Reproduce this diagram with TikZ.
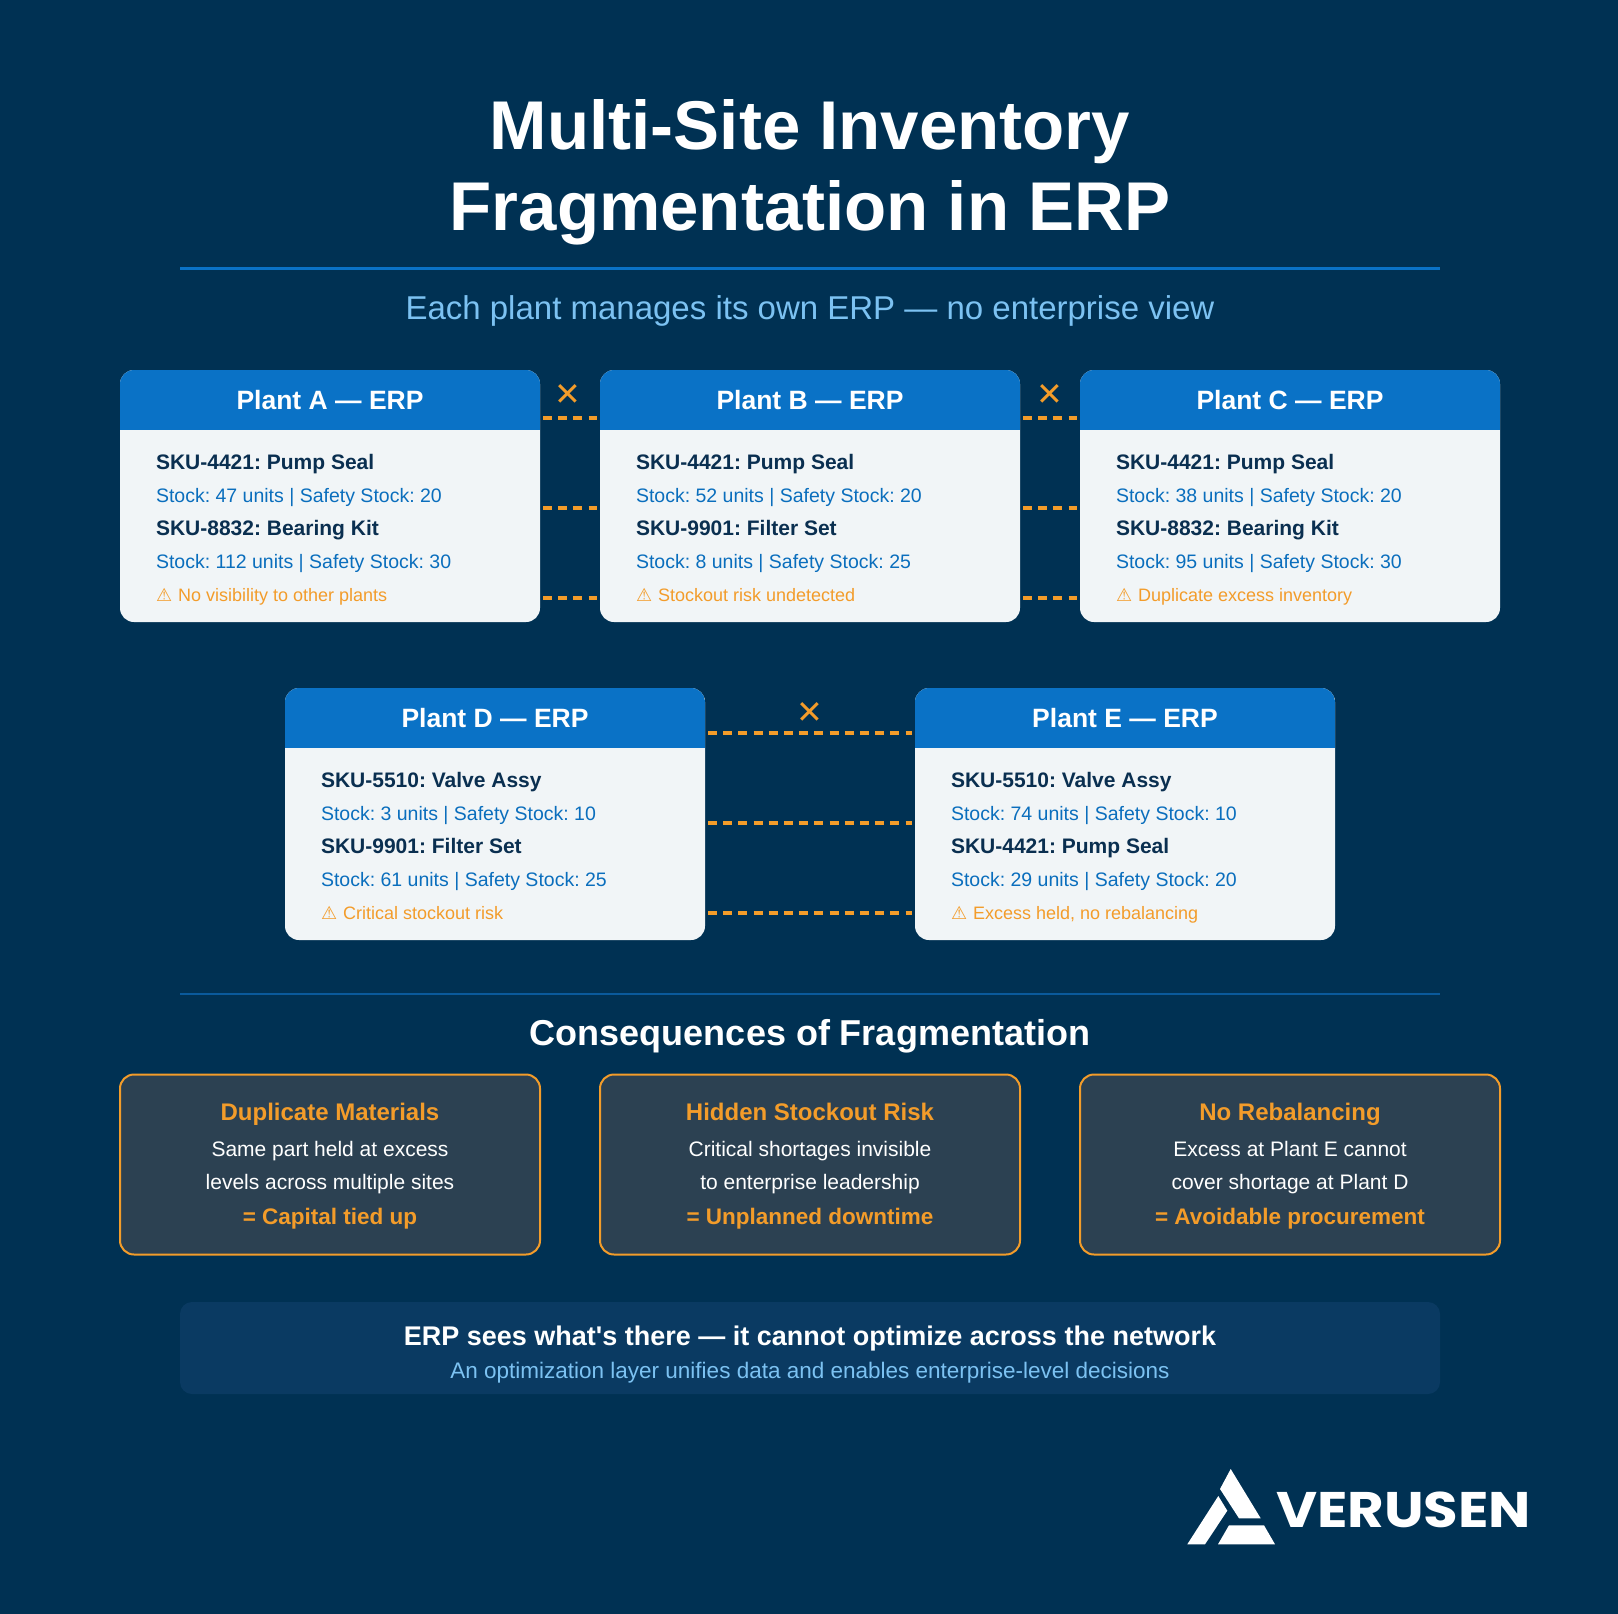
\documentclass[tikz,border=0pt]{standalone}
\usepackage{fontspec}
\usepackage{tikz}
\setmainfont{Liberation Sans}[Ligatures=TeXOff]
\newfontfamily\symfont{DejaVu Sans}
\newfontfamily\logofont{Poppins}[FakeStretch=1.125]
\usetikzlibrary{calc}
\frenchspacing

\definecolor{bgblue}{HTML}{003153}
\definecolor{headblue}{HTML}{0A72C6}
\definecolor{stockblue}{HTML}{0A6EBD}
\definecolor{skunavy}{HTML}{0A2F50}
\definecolor{cardgrey}{HTML}{F1F5F7}
\definecolor{warnorange}{HTML}{F39C2A}
\definecolor{skyblue}{HTML}{7CC2F2}
\definecolor{slatefill}{HTML}{2C4152}
\definecolor{bannerblue}{HTML}{0A3A62}
\definecolor{ruledark}{HTML}{0A5A9C}

\begin{document}
\begin{tikzpicture}[line cap=butt,line join=round,x=1pt,y=-1pt,
  txt/.style={anchor=base west,inner sep=0,outer sep=0},
  mid/.style={anchor=base,inner sep=0,outer sep=0},
  card/.style={rectangle,draw=none,fill=cardgrey,rounded corners=14pt,minimum width=420pt,minimum height=252pt,inner sep=0,outer sep=0,
    path picture={\fill[headblue,sharp corners] (path picture bounding box.north west) rectangle ([yshift=-60pt]path picture bounding box.north east);}},
  head/.style={mid,text=white,font=\fontsize{26.5}{30}\selectfont\bfseries},
  sku/.style={txt,text=skunavy,font=\fontsize{21}{26}\selectfont\bfseries},
  stock/.style={txt,text=stockblue,font=\fontsize{19.5}{24}\selectfont},
  warn/.style={txt,text=warnorange,font=\fontsize{18}{22}\selectfont},
  link/.style={draw=warnorange,line width=4pt,dash pattern=on 9pt off 6.2pt,shorten <=3pt,shorten >=3pt},
  cross/.style={mid,text=warnorange,font=\symfont\fontsize{32}{38}\selectfont},
  effect/.style={rectangle,draw=warnorange,fill=slatefill,line width=2pt,rounded corners=14pt,minimum width=420pt,minimum height=180pt,inner sep=0},
  effhead/.style={mid,text=warnorange,font=\fontsize{24}{28}\selectfont\bfseries},
  effbody/.style={mid,text=white,font=\fontsize{21}{25}\selectfont},
  effend/.style={mid,text=warnorange,font=\fontsize{22.5}{26}\selectfont\bfseries}]

\fill[bgblue] (0,0) rectangle (1618,1614);

% title
\node[mid,text=white,font=\fontsize{69}{80}\selectfont\bfseries] (titleone) at (810,149) {Multi-Site Inventory};
\node[mid,text=white,font=\fontsize{69}{80}\selectfont\bfseries] (titletwo) at (810,230) {Fragmentation in ERP};
\draw[headblue,line width=3pt] (180,268) -- (1440,268);
\node[mid,text=skyblue,font=\fontsize{33}{38}\selectfont] (subtitle) at (810,319) {Each plant manages its own ERP — no enterprise view};

% plant cards, top row
\node[card] (planta) at (330,496) {};
\node[card] (plantb) at (810,496) {};
\node[card] (plantc) at (1290,496) {};

\node[head] (aname) at (330,409) {Plant A — ERP};
\node[sku] (askuone) at (156,469) {SKU-4421: Pump Seal};
\node[stock] (astockone) at (156,502) {Stock: 47 units | Safety Stock: 20};
\node[sku] (askutwo) at (156,535) {SKU-8832: Bearing Kit};
\node[stock] (astocktwo) at (156,568) {Stock: 112 units | Safety Stock: 30};
\node[warn] (awarn) at (156,601) {{\symfont ⚠}\kern1pt{} No visibility to other plants};

\node[head] (bname) at (810,409) {Plant B — ERP};
\node[sku] (bskuone) at (636,469) {SKU-4421: Pump Seal};
\node[stock] (bstockone) at (636,502) {Stock: 52 units | Safety Stock: 20};
\node[sku] (bskutwo) at (636,535) {SKU-9901: Filter Set};
\node[stock] (bstocktwo) at (636,568) {Stock: 8 units | Safety Stock: 25};
\node[warn] (bwarn) at (636,601) {{\symfont ⚠}\kern1pt{} Stockout risk undetected};

\node[head] (cname) at (1290,409) {Plant C — ERP};
\node[sku] (cskuone) at (1116,469) {SKU-4421: Pump Seal};
\node[stock] (cstockone) at (1116,502) {Stock: 38 units | Safety Stock: 20};
\node[sku] (cskutwo) at (1116,535) {SKU-8832: Bearing Kit};
\node[stock] (cstocktwo) at (1116,568) {Stock: 95 units | Safety Stock: 30};
\node[warn] (cwarn) at (1116,601) {{\symfont ⚠}\kern1pt{} Duplicate excess inventory};

% plant cards, bottom row
\node[card] (plantd) at (495,814) {};
\node[card] (plante) at (1125,814) {};

\node[head] (dname) at (495,727) {Plant D — ERP};
\node[sku] (dskuone) at (321,787) {SKU-5510: Valve Assy};
\node[stock] (dstockone) at (321,820) {Stock: 3 units | Safety Stock: 10};
\node[sku] (dskutwo) at (321,853) {SKU-9901: Filter Set};
\node[stock] (dstocktwo) at (321,886) {Stock: 61 units | Safety Stock: 25};
\node[warn] (dwarn) at (321,919) {{\symfont ⚠}\kern1pt{} Critical stockout risk};

\node[head] (ename) at (1125,727) {Plant E — ERP};
\node[sku] (eskuone) at (951,787) {SKU-5510: Valve Assy};
\node[stock] (estockone) at (951,820) {Stock: 74 units | Safety Stock: 10};
\node[sku] (eskutwo) at (951,853) {SKU-4421: Pump Seal};
\node[stock] (estocktwo) at (951,886) {Stock: 29 units | Safety Stock: 20};
\node[warn] (ewarn) at (951,919) {{\symfont ⚠}\kern1pt{} Excess held, no rebalancing};

% broken links
\draw[link] ([yshift=-47.5pt]planta.north east) -- ([yshift=-47.5pt]plantb.north west);
\draw[link] ([yshift=-137.5pt]planta.north east) -- ([yshift=-137.5pt]plantb.north west);
\draw[link] ([yshift=-227.5pt]planta.north east) -- ([yshift=-227.5pt]plantb.north west);
\draw[link] ([yshift=-47.5pt]plantb.north east) -- ([yshift=-47.5pt]plantc.north west);
\draw[link] ([yshift=-137.5pt]plantb.north east) -- ([yshift=-137.5pt]plantc.north west);
\draw[link] ([yshift=-227.5pt]plantb.north east) -- ([yshift=-227.5pt]plantc.north west);
\draw[link] ([yshift=-44.5pt]plantd.north east) -- ([yshift=-44.5pt]plante.north west);
\draw[link] ([yshift=-134.5pt]plantd.north east) -- ([yshift=-134.5pt]plante.north west);
\draw[link] ([yshift=-224.5pt]plantd.north east) -- ([yshift=-224.5pt]plante.north west);

\node[cross] (crossab) at (568,405) {✕};
\node[cross] (crossbc) at (1050,405) {✕};
\node[cross] (crossde) at (810,723) {✕};

% consequences
\draw[ruledark,line width=2.5pt] (180,994) -- (1440,994);
\node[mid,text=white,font=\fontsize{36}{42}\selectfont\bfseries] (effecttitle) at (810,1045) {Consequences of Fragmentation};

\node[effect] (effecta) at (330,1164.5) {};
\node[effect] (effectb) at (810,1164.5) {};
\node[effect] (effectc) at (1290,1164.5) {};

\node[effhead] (aehead) at (330,1120) {Duplicate Materials};
\node[effbody] (aeone) at (330,1156) {Same part held at excess};
\node[effbody] (aetwo) at (330,1189) {levels across multiple sites};
\node[effend] (aeend) at (330,1224) {= Capital tied up};

\node[effhead] (behead) at (810,1120) {Hidden Stockout Risk};
\node[effbody] (beone) at (810,1156) {Critical shortages invisible};
\node[effbody] (betwo) at (810,1189) {to enterprise leadership};
\node[effend] (beend) at (810,1224) {= Unplanned downtime};

\node[effhead] (cehead) at (1290,1120) {No Rebalancing};
\node[effbody] (ceone) at (1290,1156) {Excess at Plant E cannot};
\node[effbody] (cetwo) at (1290,1189) {cover shortage at Plant D};
\node[effend] (ceend) at (1290,1224) {= Avoidable procurement};

% bottom banner
\fill[bannerblue,rounded corners=12pt] (180,1302) rectangle (1440,1394);
\node[mid,text=white,font=\fontsize{27}{32}\selectfont\bfseries] (bannerone) at (810,1345) {ERP sees what's there — it cannot optimize across the network};
\node[mid,text=skyblue,font=\fontsize{22.5}{27}\selectfont] (bannertwo) at (810,1378) {An optimization layer unifies data and enables enterprise-level decisions};

% logo
\fill[white] (1230.7,1469) -- (1260.7,1518.3) -- (1239,1518.3) -- (1220,1489) -- cycle;
\fill[white] (1218.3,1496) -- (1227.3,1510.7) -- (1205,1544.3) -- (1187.3,1544.3) -- cycle;
\fill[white] (1229,1525.3) -- (1264,1525.3) -- (1275,1544.3) -- (1218,1544.3) -- cycle;
\node[txt,text=white,font=\logofont\fontsize{50}{56}\selectfont\bfseries] (logotext) at (1276,1527.7) {VERUSEN};

\end{tikzpicture}
\end{document}
